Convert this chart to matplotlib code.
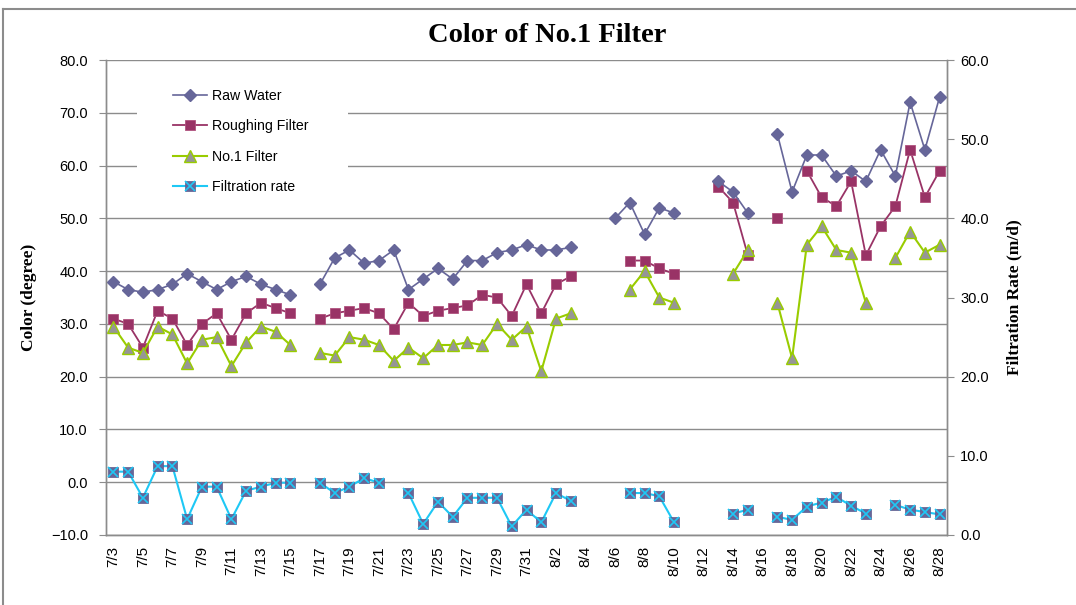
import numpy as np
import matplotlib
matplotlib.use("Agg")
import matplotlib.pyplot as plt
from matplotlib.lines import Line2D
from matplotlib.patches import Rectangle
from matplotlib.legend_handler import HandlerTuple

# Dates (categories), one per day 7/3 .. 8/28
dates = [f"7/{d}" for d in range(3, 32)] + [f"8/{d}" for d in range(1, 29)]

N = None
raw_water = [38, 36.5, 36, 36.5, 37.5, 39.5, 38, 36.5, 38, 39, 37.5, 36.5, 35.5, N,
             37.5, 42.5, 44, 41.5, 42, 44, 36.5, 38.5, 40.5, 38.5, 42, 42, 43.5, 44, 45,
             44, 44, 44.5, N, N, 50, 53, 47, 52, 51, N, N, 57, 55, 51, N,
             66, 55, 62, 62, 58, 59, 57, 63, 58, 72, 63, 73]
roughing = [31, 30, 25.5, 32.5, 31, 26, 30, 32, 27, 32, 34, 33, 32, N,
            31, 32, 32.5, 33, 32, 29, 34, 31.5, 32.5, 33, 33.5, 35.5, 35, 31.5, 37.5,
            32, 37.5, 39, N, N, N, 42, 42, 40.5, 39.5, N, N, 56, 53, 43, N,
            50, N, 59, 54, 52.3, 57, 43, 48.5, 52.3, 63, 54, 59]
no1_filter = [29.5, 25.5, 24.5, 29.5, 28, 22.5, 27, 27.5, 22, 26.5, 29.5, 28.5, 26, N,
              24.5, 24, 27.5, 27, 26, 23, 25.5, 23.5, 26, 26, 26.5, 26, 30, 27, 29.5,
              21, 31, 32, N, N, N, 36.5, 40, 35, 34, N, N, N, 39.5, 44, N,
              34, 23.5, 45, 48.5, 44, 43.5, 34, N, 42.5, 47.5, 43.5, 45]
filtration_rate = [8, 8, 4.7, 8.7, 8.7, 2, 6.1, 6.1, 2, 5.6, 6.1, 6.6, 6.6, N,
                   6.6, 5.3, 6.1, 7.2, 6.6, N, 5.3, 1.4, 4.2, 2.3, 4.7, 4.7, 4.7, 1.1, 3.2,
                   1.6, 5.3, 4.3, N, N, N, 5.3, 5.3, 4.9, 1.6, N, N, N, 2.7, 3.2, N,
                   2.3, 1.9, 3.6, 4.1, 4.8, 3.7, 2.7, N, 3.8, 3.2, 2.9, 2.6]


def to_arr(vals):
    return np.array([np.nan if v is None else v for v in vals], dtype=float)


raw_color = "#666699"
rough_color = "#993366"
no1_line = "#99CC00"
no1_face = "#969696"
rate_line = "#1EC8F5"
rate_face = "#666699"
grid_color = "#8c8c8c"

W, H = 1076, 605
fig = plt.figure(figsize=(W / 100, H / 100), dpi=100)
fig.patch.set_facecolor("white")

# chart border (left and top)
fig.add_artist(Line2D([3 / W, 3 / W], [0, 1 - 9 / H], color="#8c8c8c", lw=1.5))
fig.add_artist(Line2D([3 / W, 1], [1 - 9 / H, 1 - 9 / H], color="#8c8c8c", lw=1.5))

ax = fig.add_axes([106 / W, 1 - 535 / H, 841 / W, 475 / H])
ax2 = ax.twinx()

x = np.arange(len(dates))

l_raw, = ax.plot(x, to_arr(raw_water), color=raw_color, lw=1.2, marker="D", ms=6.2,
                 mfc=raw_color, mec=raw_color, label="Raw Water", zorder=4)
l_rough, = ax.plot(x, to_arr(roughing), color=rough_color, lw=1.3, marker="s", ms=7.5,
                   mfc=rough_color, mec="#b0527e", mew=0.6, label="Roughing Filter", zorder=3)
l_no1, = ax.plot(x, to_arr(no1_filter), color=no1_line, lw=1.5, marker="^", ms=8.5,
                 mfc=no1_face, mec=no1_line, mew=1.0, label="No.1 Filter", zorder=3)

rate = to_arr(filtration_rate)
l_rate, = ax2.plot(x, rate, color=rate_line, lw=1.5, marker="s", ms=7.5,
                   mfc=rate_face, mec="#5a5a8c", mew=0.5, zorder=3)
l_rate_x, = ax2.plot(x, rate, ls="none", marker="x", ms=6.5, mec=rate_line, mew=1.2, zorder=4)

ax.set_xlim(-0.5, len(dates) - 0.5)
ax.set_ylim(-10, 80)
ax.set_yticks(np.arange(-10, 81, 10))
ax.set_yticklabels([f"{v:.1f}".replace("-", "\u2212") for v in np.arange(-10, 81, 10)])
ax2.set_ylim(0, 60)
ax2.set_yticks(np.arange(0, 61, 10))
ax2.set_yticklabels([f"{v:.1f}" for v in np.arange(0, 61, 10)])

ax.set_xticks(x[::2])
ax.set_xticklabels(dates[::2], rotation=90, va="top", ha="center")

ax.grid(axis="y", color=grid_color, lw=1.0)
ax.set_axisbelow(True)
for a in (ax, ax2):
    a.spines["top"].set_visible(False)
    for s in ("left", "right", "bottom"):
        a.spines[s].set_color("#8c8c8c")
        a.spines[s].set_linewidth(1.0)

ax.tick_params(axis="x", length=0, pad=8, labelsize=11, labelfontfamily="Liberation Sans")
ax.tick_params(axis="y", length=5, color="#8c8c8c", pad=8, labelsize=10.5,
               labelfontfamily="Liberation Sans")
ax2.tick_params(axis="y", length=5, color="#8c8c8c", pad=4.5, labelsize=10.5,
                labelfontfamily="Liberation Sans")

ax.set_ylabel("Color (degree)", family="Liberation Serif", fontweight="bold",
              fontsize=12.5, labelpad=10)
ax2.set_ylabel("Filtration Rate (m/d)", family="Liberation Serif", fontweight="bold",
               fontsize=12.5, labelpad=13)

fig.text(547 / W, 1 - 36 / H, "Color of No.1 Filter", family="Liberation Serif",
         fontweight="bold", fontsize=20.5, ha="center", va="center")

# white legend area covering the gridlines
ax.add_patch(Rectangle(((137 - 106) / 841, (535 - 210) / 475), (348 - 137) / 841,
                       (210 - 75) / 475, transform=ax.transAxes, facecolor="white",
                       edgecolor="none", zorder=5))

leg = ax.legend([l_raw, l_rough, l_no1, (l_rate, l_rate_x)],
                ["Raw Water", "Roughing Filter", "No.1 Filter", "Filtration rate"],
                handler_map={tuple: HandlerTuple(ndivide=1)},
                loc="upper left", bbox_to_anchor=((176 - 106) / 841 - 0.004, (535 - 89) / 475),
                frameon=False, borderaxespad=0, borderpad=0,
                prop={"family": "Liberation Sans", "size": 10.2},
                labelspacing=1.15, handlelength=2.4, handletextpad=0.35)
leg.set_zorder(10)

fig.savefig("out.png", dpi=100)
